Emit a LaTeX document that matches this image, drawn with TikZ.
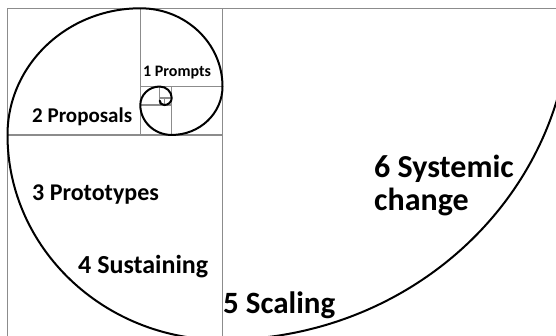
\documentclass[tikz,border=0pt]{standalone}
\usepackage{fontspec}
\setmainfont{Carlito}
\definecolor{gridgray}{RGB}{140,140,140}
\newcommand{\stagefont}[1]{\bfseries\fontsize{#1}{#1}\selectfont}
\tikzset{
  square/.style={draw=gridgray, line width=1.3pt},
  spiral/.style={line width=2pt, line cap=round},
  stage/.style={inner sep=0pt, anchor=base west},
}
\begin{document}
\begin{tikzpicture}[x=1pt,y=1pt]
    \useasboundingbox (0,0) rectangle (556,335);
    \clip (0,0) rectangle (556,335);

    \begin{scope}[shift={(7.5,326.7)}, yscale=0.953]
        % Cuadrados
        \draw[square] (215,0) rectangle (562.9,-347.9);
        \draw[square] (0,-132.9) rectangle (215,-347.9);
        \draw[square] (0,0) rectangle (132.9,-132.9);
        \draw[square] (132.9,0) rectangle (215,-82.1);
        \draw[square] (164.2,-82.1) rectangle (215,-132.9);
        \draw[square] (132.9,-101.5) rectangle (164.2,-132.9);
        \draw[square] (132.9,-82.1) rectangle (152.2,-101.5);
        \draw[square] (152.2,-82.1) rectangle (164.2,-94.1);
        \draw[square] (156.8,-94.1) rectangle (164.2,-101.5);

        % Espiral
        \draw[spiral] (562.9,0)
            arc[start angle=0, end angle=-90, radius=347.9]
            arc[start angle=-90, end angle=-180, radius=215]
            arc[start angle=180, end angle=90, radius=132.9]
            arc[start angle=90, end angle=0, radius=82.1]
            arc[start angle=0, end angle=-90, radius=50.8]
            arc[start angle=-90, end angle=-180, radius=31.4]
            arc[start angle=180, end angle=90, radius=19.4]
            arc[start angle=90, end angle=0, radius=12]
            arc[start angle=0, end angle=-90, radius=7.4]
            arc[start angle=-90, end angle=-180, radius=4.6];
    \end{scope}

    % Etapas
    \node[stage, font=\stagefont{16}] (prompts) at (143,258) {1 Prompts};
    \node[stage, font=\stagefont{21}] (proposals) at (32,212) {2 Proposals};
    \node[stage, font=\stagefont{24}] (prototypes) at (32,135) {3 Prototypes};
    \node[stage, font=\stagefont{26}] (sustaining) at (78,62) {4 Sustaining};
    \node[stage, font=\stagefont{31}] (scaling) at (223,22) {5 Scaling};
    \node[stage, font=\stagefont{32}] (systemic) at (374,158) {6 Systemic};
    \node[stage, font=\stagefont{32}] (change) at (374,125) {change};
\end{tikzpicture}
\end{document}
